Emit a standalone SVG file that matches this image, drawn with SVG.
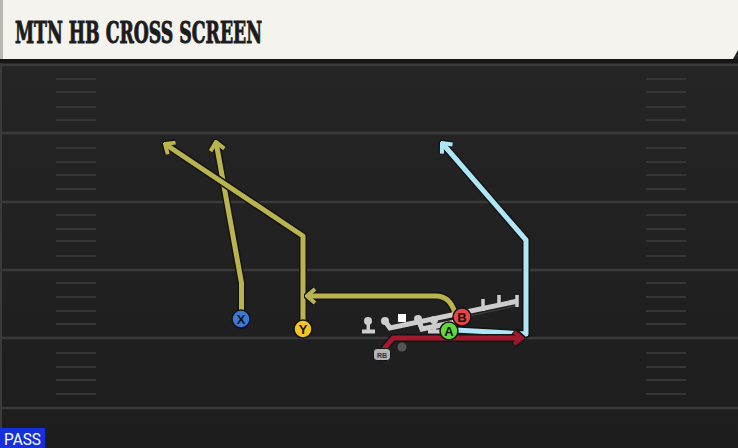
<svg xmlns="http://www.w3.org/2000/svg" width="738" height="448" viewBox="0 0 738 448">
<style>
.yard{stroke:#3a3a3a;stroke-width:2.5}
.hash{stroke:#363636;stroke-width:2}
.under{fill:none;stroke:#141414;stroke-width:8;stroke-linejoin:round}
.rt{fill:none;stroke-width:5;stroke-linejoin:round}
.yel{stroke:#b9b44d}
.blu{stroke:#aee6f5}
.red{stroke:#a3182c}
.ol{fill:none;stroke:#cdcdcd;stroke-width:5;stroke-linecap:butt}
.pc{stroke:#141414;stroke-width:1.5}
.pl{font-family:"Liberation Sans",Arial,sans-serif;font-weight:bold;font-size:13px;fill:#111;text-anchor:middle}
</style>
<defs>
<linearGradient id="fieldg" x1="0" y1="0" x2="0" y2="1">
<stop offset="0" stop-color="#262626"/>
<stop offset="1" stop-color="#1d1d1d"/>
</linearGradient>
<marker id="aY" viewBox="-12 -10 14 20" markerWidth="14" markerHeight="20" refX="0" refY="0" orient="auto" markerUnits="userSpaceOnUse"><path d="M-8,-7 L0,0 L-8,7" fill="none" stroke="#b9b44d" stroke-width="4" stroke-linejoin="miter"/></marker>
<marker id="aB" viewBox="-12 -10 14 20" markerWidth="14" markerHeight="20" refX="0" refY="0" orient="auto" markerUnits="userSpaceOnUse"><path d="M-8,-7 L0,0 L-8,7" fill="none" stroke="#aee6f5" stroke-width="4" stroke-linejoin="miter"/></marker>
<marker id="aR" viewBox="-12 -10 14 20" markerWidth="14" markerHeight="20" refX="0" refY="0" orient="auto" markerUnits="userSpaceOnUse"><path d="M-8,-6 L0,0 L-8,6" fill="none" stroke="#a3182c" stroke-width="4" stroke-linejoin="miter"/></marker>
<marker id="aK" viewBox="-13 -11 16 22" markerWidth="16" markerHeight="22" refX="0" refY="0" orient="auto" markerUnits="userSpaceOnUse"><path d="M-8,-7 L0,0 L-8,7" fill="none" stroke="#141414" stroke-width="7" stroke-linejoin="miter"/></marker>
</defs>

<!-- field -->
<rect x="0" y="0" width="738" height="448" fill="url(#fieldg)"/>
<rect x="0" y="60" width="2" height="388" fill="#3a3a3a"/>
<g id="yardlines">
<line class="yard" x1="0" y1="65" x2="738" y2="65"/>
<line class="yard" x1="0" y1="133" x2="738" y2="133"/>
<line class="yard" x1="0" y1="202" x2="738" y2="202"/>
<line class="yard" x1="0" y1="270" x2="738" y2="270"/>
<line class="yard" x1="0" y1="338" x2="738" y2="338"/>
<line class="yard" x1="0" y1="408" x2="738" y2="408"/>
</g>
<g id="hashes">
<path class="hash" d="M56,79H96M56,92H96M56,107H96M56,120H96M56,148H96M56,162H96M56,175H96M56,189H96M56,215H96M56,229H96M56,241H96M56,256H96M56,283H96M56,297H96M56,311H96M56,324H96M56,353H96M56,367H96M56,380H96M56,394H96"/>
<path class="hash" d="M646,79H686M646,92H686M646,107H686M646,120H686M646,148H686M646,162H686M646,175H686M646,189H686M646,215H686M646,229H686M646,241H686M646,256H686M646,283H686M646,297H686M646,311H686M646,324H686M646,353H686M646,367H686M646,380H686M646,394H686"/>
</g>

<!-- title banner -->
<g id="title">
<rect x="0" y="59" width="738" height="4" fill="#161616"/>
<path d="M0,0 H738 V50 L733,59 H0 Z" fill="#f5f3ee"/>
<rect x="0" y="0" width="3" height="59" fill="#b8b6b0"/>
<text x="15" y="43" font-family="'DejaVu Serif','Liberation Serif',serif" font-weight="bold" font-size="29" fill="#1c1c1c" stroke="#1c1c1c" stroke-width="1" textLength="247" lengthAdjust="spacingAndGlyphs">MTN HB CROSS SCREEN</text>
</g>

<!-- connectors -->
<g id="connectors">
<path class="under" d="M241.5,319 V283 L216,142" marker-end="url(#aK)"/>
<path class="rt yel" d="M241.5,319 V283 L216,142" marker-end="url(#aY)"/>
<path class="under" d="M303,329 V236 L165,144" marker-end="url(#aK)"/>
<path class="rt yel" d="M303,329 V236 L165,144" marker-end="url(#aY)"/>
<path class="under" d="M455,313 Q450,296 436,296 H307" marker-end="url(#aK)"/>
<path class="rt yel" d="M455,313 Q450,296 436,296 H307" marker-end="url(#aY)"/>
<path class="under" d="M455,330 L526,334 V240 L442,143" marker-end="url(#aK)"/>
<path class="rt blu" d="M455,330 L526,334 V240 L442,143" marker-end="url(#aB)"/>
<path class="under" d="M383,350 L393,338 H522" marker-end="url(#aK)"/>
<path class="rt red" d="M383,350 L393,338 H522" marker-end="url(#aR)"/>
</g>

<!-- offensive line -->
<g id="oline">
<g fill="#cdcdcd">
<circle cx="368" cy="321" r="4"/>
<rect x="366.5" y="321" width="3.5" height="10"/>
<rect x="362" y="329.5" width="13" height="4"/>
<circle cx="385" cy="321" r="4"/>
<circle cx="418" cy="319" r="4"/>
<circle cx="434" cy="320" r="4"/>
<rect x="432.5" y="320" width="3.5" height="10"/>
<rect x="428" y="329.5" width="13" height="4"/>
</g>
<path class="ol" d="M385,321 L390,328 L518,301"/>
<path class="ol" d="M418,319 L422,329 L470,319"/>
<path d="M462,317.5 L516,306" stroke="#444" stroke-width="1" fill="none"/>
<path class="ol" d="M483,311 V299 M499,307 V295 M517,307 V295" style="stroke-width:3.5"/>
<rect x="398" y="314" width="8" height="8" fill="#ffffff"/>
</g>

<!-- players -->
<g id="X"><circle class="pc" cx="241" cy="319" r="9" fill="#3a7ad8"/><text class="pl" x="241" y="323.5">X</text></g>
<g id="Y"><circle class="pc" cx="303" cy="329" r="9" fill="#f4c522"/><text class="pl" x="303" y="333.5">Y</text></g>
<g id="B"><circle class="pc" cx="462" cy="317" r="9" fill="#e8454a"/><text class="pl" x="462" y="321.5">B</text></g>
<g id="A"><circle class="pc" cx="449" cy="331" r="9" fill="#62d63c"/><text class="pl" x="449" y="335.5">A</text></g>
<g id="RB"><circle cx="402" cy="347" r="4.5" fill="#555555"/><rect x="373.5" y="348.5" width="17" height="12" rx="3.5" fill="#b5b5b5" stroke="#141414" stroke-width="1"/><text x="382" y="357.5" font-family="'Liberation Sans',Arial,sans-serif" font-size="7" font-weight="bold" fill="#333" text-anchor="middle">RB</text></g>

<!-- pass tag -->
<g id="pass">
<rect x="0" y="428" width="45" height="20" fill="#1530dc"/>
<text x="4" y="444.5" font-family="Roboto,'Liberation Sans',sans-serif" font-size="16.5" fill="#ffffff" textLength="37" lengthAdjust="spacingAndGlyphs">PASS</text>
</g>
</svg>
